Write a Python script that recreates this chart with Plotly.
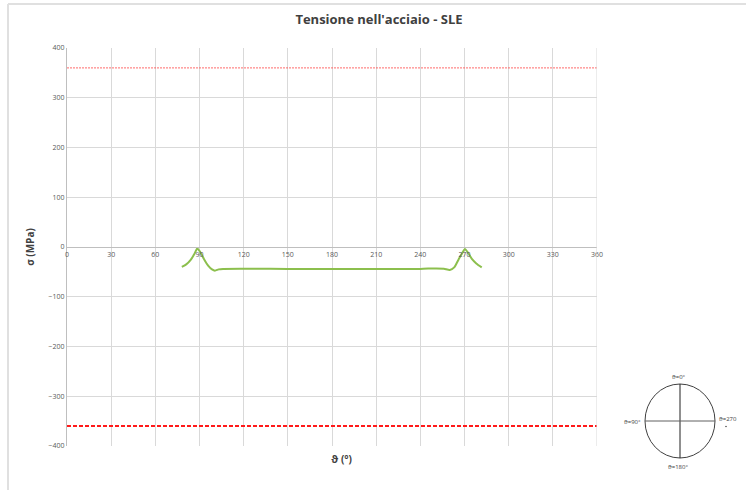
import plotly.graph_objects as go

# Steel stress along the section angle (SLS)
theta_deg = [78, 81, 84, 86.5, 88.5, 90.5, 93, 96, 98.5, 100.5, 103, 106, 150, 200, 240, 250, 256, 260, 263, 266, 268.5, 270.3, 272.5, 275, 278, 281.7]
sigma_mpa = [-40, -35, -26, -14, -3, -10, -24, -38, -45, -47.5, -45, -44, -44, -44, -44, -43, -43.5, -46, -41, -25, -12, -4, -12, -24, -33, -41]

# Stress limits
limit_upper = 360
limit_lower = -360

x_ticks = [0, 30, 60, 90, 120, 150, 180, 210, 240, 270, 300, 330, 360]
y_ticks = [400, 300, 200, 100, 0, -100, -200, -300, -400]

W, H = 748, 490
L, R, T, B = 67, 597, 48, 446


def px(x):
    return (x - L) / (R - L)


def py(y):
    return (B - y) / (B - T)


fig = go.Figure()

fig.add_trace(go.Scatter(
    x=[0, 360], y=[limit_upper, limit_upper], mode="lines",
    line=dict(color="rgba(255,80,80,0.85)", width=1, dash="2px,1px"),
    hoverinfo="skip", showlegend=False))
fig.add_trace(go.Scatter(
    x=[0, 360], y=[limit_lower, limit_lower], mode="lines",
    line=dict(color="#ff1a1a", width=2, dash="4px,2px"),
    hoverinfo="skip", showlegend=False))
fig.add_trace(go.Scatter(
    x=theta_deg, y=sigma_mpa, mode="lines",
    line=dict(color="#8cbf4d", width=2, shape="spline", smoothing=0.6),
    showlegend=False))

fig.update_layout(
    width=W, height=H,
    margin=dict(l=L, r=W - R, t=T, b=H - B),
    paper_bgcolor="white", plot_bgcolor="white",
    font=dict(family="Open Sans, Liberation Sans, sans-serif", color="#595959"),
    title=dict(text="<b>Tensione nell'acciaio - SLE</b>", x=379 / W, xanchor="center",
               y=1 - 19 / H, yanchor="middle",
               font=dict(size=13, color="#404040")),
    xaxis=dict(range=[0, 360], tickvals=x_ticks, ticktext=[str(v) for v in x_ticks],
               anchor="free", position=0.5, showgrid=True, gridcolor="#d9d9d9", gridwidth=1,
               zeroline=False, showline=True, linecolor="#bfbfbf", linewidth=1,
               ticks="", tickfont=dict(size=7, color="#595959"), ticklabelstandoff=1),
    yaxis=dict(range=[-400, 400], tickvals=y_ticks, showgrid=True, gridcolor="#d9d9d9",
               zeroline=False, showline=True, linecolor="#bfbfbf", linewidth=1,
               ticks="", tickfont=dict(size=7, color="#595959"),
               title=dict(text="<b>σ (MPa)</b>", font=dict(size=10, color="#404040"), standoff=12)),
)

# Right edge of the plot area
fig.add_shape(type="line", xref="x", yref="y", x0=360, x1=360, y0=-400, y1=400,
              line=dict(color="#d9d9d9", width=1))

# Axis title below the plot
fig.add_annotation(text="<b>ϑ (°)</b>", xref="paper", yref="paper",
                   x=px(341), y=py(468), showarrow=False,
                   font=dict(size=10, color="#404040"))

# Outer chart border (top and left)
fig.add_shape(type="line", xref="paper", yref="paper", x0=px(8), x1=px(746), y0=py(4), y1=py(4),
              line=dict(color="#e0e0e0", width=2))
fig.add_shape(type="line", xref="paper", yref="paper", x0=px(8), x1=px(8), y0=py(4), y1=py(492),
              line=dict(color="#e0e0e0", width=2))

# Section sketch with angle references
cx, cy, rx, ry = 680, 421, 35, 37
fig.add_shape(type="circle", xref="paper", yref="paper",
              x0=px(cx - rx), x1=px(cx + rx), y0=py(cy + ry), y1=py(cy - ry),
              line=dict(color="#404040", width=1))
fig.add_shape(type="line", xref="paper", yref="paper",
              x0=px(cx), x1=px(cx), y0=py(cy - ry), y1=py(cy + ry),
              line=dict(color="#202020", width=1))
fig.add_shape(type="line", xref="paper", yref="paper",
              x0=px(cx - rx), x1=px(cx + rx), y0=py(cy), y1=py(cy),
              line=dict(color="#606060", width=1))

labels = [("ϑ=0°", 679, 382, "center", "bottom"), ("ϑ=90°", 642, 422, "right", "middle"),
          ("ϑ=270", 718, 419, "left", "middle"), ("ϑ=180°", 678, 462, "center", "top")]
for txt, lx, ly, xa, ya in labels:
    fig.add_annotation(text=txt, xref="paper", yref="paper", x=px(lx), y=py(ly),
                       xanchor=xa, yanchor=ya, borderpad=0, showarrow=False,
                       font=dict(size=6, color="#404040"))
# small mark under the 270 label
fig.add_shape(type="circle", xref="paper", yref="paper",
              x0=px(725.5), x1=px(726.5), y0=py(427), y1=py(426),
              line=dict(color="#404040", width=0.5), fillcolor="#404040")

fig.write_html("out.html")
